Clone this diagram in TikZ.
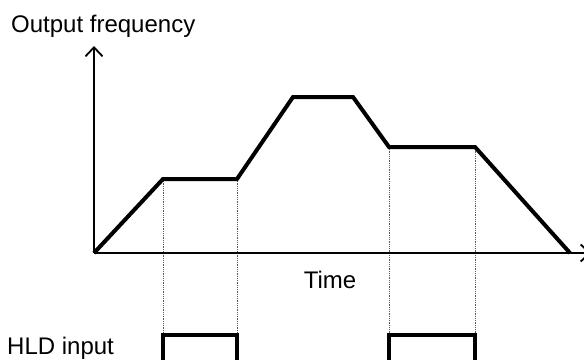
\documentclass[tikz,border=0pt]{standalone}
\usepackage{fontspec}
\setmainfont{Liberation Sans}
\usetikzlibrary{arrows.meta}
\begin{document}
\begin{tikzpicture}[
  x=1pt,y=-1pt,
  font=\fontsize{24}{28}\selectfont,
  axis/.style={line width=1.8pt, -{Straight Barb[length=9pt,width=17pt,line width=1.8pt]}},
  freq/.style={line width=4pt, line join=miter},
  hold/.style={line width=3.5pt, line join=miter},
  guide/.style={densely dotted, line width=0.8pt, black!65},
  label/.style={inner sep=0pt}
]

% Canvas: 584 x 359, y grows downwards
\useasboundingbox (0,0) rectangle (584,359);

% Key points
\coordinate (origin) at (94,253);
\coordinate (ytop) at (94,46);
\coordinate (xend) at (591,253);
\coordinate (p1) at (163,179);
\coordinate (p2) at (237,179);
\coordinate (p3) at (293,97);
\coordinate (p4) at (353,97);
\coordinate (p5) at (389,147);
\coordinate (p6) at (475,147);
\coordinate (p7) at (570,253);

% Labels
\node[label, anchor=west] (fout) at (11,26) {Output frequency};
\node[label] (time) at (330,280) {Time};
\node[label, anchor=west] (hld) at (7,348) {HLD input};

% Guide lines
\foreach \c in {p1, p2, p5, p6}
  \draw[guide] (\c) -- (\c |- 0,335);

% Axes
\draw[axis] (origin) -- (ytop);
\draw[axis] (origin) -- (xend);

% Output frequency
\draw[freq] (origin) -- (p1) -- (p2) -- (p3) -- (p4) -- (p5) -- (p6) -- (p7);

% HLD input pulses
\draw[hold] (p1 |- 0,361) -- (p1 |- 0,335) -- (p2 |- 0,335) -- (p2 |- 0,361);
\draw[hold] (p5 |- 0,361) -- (p5 |- 0,335) -- (p6 |- 0,335) -- (p6 |- 0,361);

\end{tikzpicture}
\end{document}
